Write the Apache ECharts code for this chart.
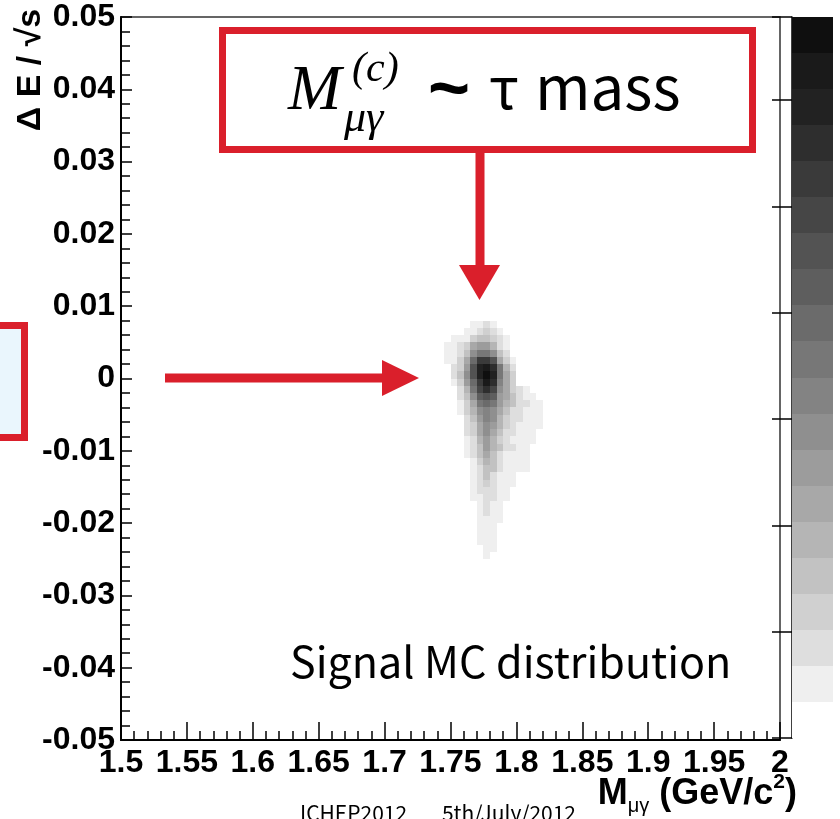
<!DOCTYPE html>
<html>
<head>
<meta charset="utf-8">
<script src="https://cdn.jsdelivr.net/npm/echarts@6/dist/echarts.min.js"></script>
<style>
  html, body { margin: 0; padding: 0; background: #ffffff; }
  #chart { width: 840px; height: 819px; }
</style>
</head>
<body>
<div id="chart"></div>
<script>
// ---- Histogram binning ----
const massRange = [1.5, 2.0];          // GeV/c^2
const massTickStep = 0.05;
const deltaERange = [-0.05, 0.05];     // ΔE/√s
const deltaETickStep = 0.01;
const massBinWidth = 0.005;
const deltaEBinWidth = 0.001;

// Lower ΔE/√s edge of each filled row (top to bottom)
const rowDeltaE = [
  0.007, 0.006, 0.005, 0.004, 0.003, 0.002, 0.001, 0.000,
  -0.001, -0.002, -0.003, -0.004, -0.005, -0.006, -0.007, -0.008,
  -0.009, -0.010, -0.011, -0.012, -0.013, -0.014, -0.015, -0.016,
  -0.017, -0.018, -0.019, -0.020, -0.021, -0.022, -0.023, -0.024, -0.025
];

// Lower mass edge of the first filled bin in each row
const rowMassStart = [
  1.765, 1.760, 1.750, 1.745, 1.745, 1.745, 1.750, 1.750,
  1.750, 1.755, 1.755, 1.755, 1.755, 1.760, 1.760, 1.760,
  1.760, 1.760, 1.760, 1.765, 1.765, 1.765, 1.765, 1.765,
  1.765, 1.770, 1.770, 1.770, 1.770, 1.770, 1.770, 1.775, 1.775
];

// Entries per bin in each row, left to right
const rowCounts = [
  [46, 58, 88, 52],
  [44, 62, 91, 125, 84, 49],
  [41, 47, 66, 118, 160, 152, 121, 80, 45],
  [39, 52, 83, 124, 219, 251, 258, 186, 87, 44],
  [42, 57, 92, 158, 289, 352, 360, 284, 149, 79],
  [37, 55, 116, 217, 389, 522, 530, 452, 221, 115, 48],
  [81, 118, 262, 455, 590, 640, 560, 340, 186, 76],
  [79, 153, 286, 456, 592, 668, 587, 349, 214, 110],
  [56, 112, 254, 388, 521, 625, 560, 317, 218, 104],
  [83, 184, 340, 490, 560, 500, 300, 219, 112, 79, 44],
  [77, 160, 275, 420, 470, 420, 260, 217, 152, 84, 47, 39],
  [52, 118, 230, 350, 390, 350, 240, 183, 148, 81, 72, 45, 38],
  [48, 113, 200, 290, 320, 300, 225, 150, 86, 74, 49, 42, 37],
  [82, 160, 250, 310, 275, 200, 125, 83, 77, 50, 44, 40],
  [78, 130, 235, 290, 250, 190, 118, 79, 48, 46, 41, 38],
  [71, 125, 205, 280, 235, 155, 88, 76, 47, 44, 39],
  [52, 92, 190, 250, 200, 125, 82, 46, 43, 40, 36],
  [49, 88, 160, 240, 195, 152, 86, 72, 45, 38],
  [47, 84, 152, 230, 155, 88, 50, 44, 41, 37],
  [55, 120, 195, 160, 90, 50, 45, 40, 36],
  [53, 86, 165, 155, 85, 48, 44, 39, 35],
  [50, 84, 150, 90, 50, 43, 38],
  [48, 82, 128, 86, 47, 41, 37],
  [46, 80, 92, 82, 45, 38],
  [43, 55, 84, 77, 42, 36],
  [48, 81, 46, 40],
  [44, 78, 45, 38],
  [42, 51, 47, 36],
  [40, 49, 41],
  [39, 46, 38],
  [37, 45, 36],
  [41, 35],
  [38]
];

// ---- Colour scale (z axis) ----
const zMax = 678;
const zTickStep = 100;
const levelColors = [
  '#ffffff', '#efefef', '#dedede', '#d0d0d0', '#c2c2c2', '#b5b5b5', '#a8a8a8',
  '#9c9c9c', '#8f8f8f', '#838383', '#777777', '#6b6b6b', '#5e5e5e', '#535353',
  '#464646', '#3a3a3a', '#2e2e2e', '#222222', '#1a1a1a', '#0f0f0f'
];

// ---- Text ----
const signalLabel = 'Signal MC distribution';
const footerLeft = 'ICHEP2012';
const footerRight = '5th/July/2012';

const RED = '#da1f2b';
const LABEL_FONT = '"Liberation Sans", Arial, Helvetica, sans-serif';
const GOTHIC_FONT = '"Noto Sans CJK JP", "Noto Sans", sans-serif';
const SERIF_FONT = '"Liberation Serif", "DejaVu Serif", serif';

// Build histogram cells [massLow, deltaELow, entries]
const cells = [];
rowDeltaE.forEach(function (e0, r) {
  rowCounts[r].forEach(function (n, i) {
    cells.push([+(rowMassStart[r] + i * massBinWidth).toFixed(3), e0, n]);
  });
});

const levelStep = zMax / levelColors.length;
const pieces = levelColors.map(function (c, i) {
  return { gte: i * levelStep, lt: (i + 1) * levelStep, color: c };
});
const paletteBands = levelColors.map(function (c, i) {
  return [i * levelStep, (i + 1) * levelStep, i];
});

function renderCell(params, api) {
  const m0 = api.value(0), e0 = api.value(1);
  const a = api.coord([m0, e0 + deltaEBinWidth]);
  const b = api.coord([m0 + massBinWidth, e0]);
  const x0 = Math.round(a[0]), y0 = Math.round(a[1]);
  const x1 = Math.round(b[0]), y1 = Math.round(b[1]);
  return {
    type: 'rect',
    shape: { x: x0, y: y0, width: x1 - x0, height: y1 - y0 },
    style: { fill: api.visual('color') }
  };
}

function renderBand(params, api) {
  const a = api.coord([0, api.value(1)]);
  const b = api.coord([1, api.value(0)]);
  return {
    type: 'rect',
    shape: { x: a[0], y: Math.round(a[1]), width: b[0] - a[0], height: Math.round(b[1]) - Math.round(a[1]) },
    style: { fill: levelColors[api.value(2)] }
  };
}

const chart = echarts.init(document.getElementById('chart'), null, { renderer: 'canvas' });

const option = {
  animation: false,
  backgroundColor: '#ffffff',
  grid: [
    { left: 121, top: 17, width: 659, height: 723, show: true, borderColor: '#333', borderWidth: 1.5,
      backgroundColor: 'transparent', outerBoundsMode: 'none' },
    { left: 792, top: 17, width: 41, height: 721, show: false, outerBoundsMode: 'none' }
  ],
  xAxis: [
    {
      gridIndex: 0, type: 'value', min: massRange[0], max: massRange[1], interval: massTickStep,
      axisLine: { show: true, onZero: false, lineStyle: { color: '#000', width: 2 } },
      axisTick: { show: true, inside: true, length: 18, lineStyle: { color: '#000', width: 1.5 } },
      minorTick: { show: true, splitNumber: 5, length: 9, lineStyle: { color: '#000', width: 1.5 } },
      splitLine: { show: false },
      axisLabel: { color: '#000', fontFamily: LABEL_FONT, fontWeight: 'bold', fontSize: 32, margin: 7 }
    },
    { gridIndex: 1, type: 'value', min: 0, max: 1, show: false }
  ],
  yAxis: [
    {
      gridIndex: 0, type: 'value', min: deltaERange[0], max: deltaERange[1], interval: deltaETickStep,
      axisLine: { show: true, onZero: false, lineStyle: { color: '#000', width: 2 } },
      axisTick: { show: true, inside: true, length: 11, lineStyle: { color: '#000', width: 1.5 } },
      minorTick: { show: true, splitNumber: 5, length: 9, lineStyle: { color: '#000', width: 1.5 } },
      splitLine: { show: false },
      axisLabel: { color: '#000', fontFamily: LABEL_FONT, fontWeight: 'bold', fontSize: 32, margin: 6 }
    },
    {
      gridIndex: 1, type: 'value', position: 'right', min: 0, max: zMax, interval: zTickStep,
      axisLine: { show: true, lineStyle: { color: '#000', width: 1.5 } },
      axisTick: { show: true, inside: true, length: 20, lineStyle: { color: '#000', width: 1.5 } },
      axisLabel: { show: false },
      splitLine: { show: false }
    }
  ],
  visualMap: {
    type: 'piecewise', show: false, seriesIndex: 0, dimension: 2, pieces: pieces
  },
  series: [
    {
      type: 'custom', name: 'signal MC', xAxisIndex: 0, yAxisIndex: 0,
      renderItem: renderCell, encode: { x: 0, y: 1 }, data: cells, clip: true, silent: true
    },
    {
      type: 'custom', name: 'palette', xAxisIndex: 1, yAxisIndex: 1,
      renderItem: renderBand, encode: { y: [0, 1] }, data: paletteBands, silent: true
    }
  ],
  graphic: [
    // y-axis title
    { type: 'text', x: 31, y: 70, rotation: Math.PI / 2,
      style: { text: 'Δ E / √s', font: 'bold 34px ' + LABEL_FONT, fill: '#000', align: 'center', verticalAlign: 'middle' } },
    // x-axis title
    { type: 'text', x: 797, y: 794,
      style: {
        text: '{b|M}{s|μγ}{b| (GeV/c}{p|2}{b|)}',
        align: 'right', verticalAlign: 'middle',
        rich: {
          b: { fontFamily: LABEL_FONT, fontWeight: 'bold', fontSize: 36, lineHeight: 44, fill: '#000', verticalAlign: 'middle' },
          s: { fontFamily: LABEL_FONT, fontSize: 20, fill: '#000', verticalAlign: 'bottom' },
          p: { fontFamily: LABEL_FONT, fontWeight: 'bold', fontSize: 21, lineHeight: 32, fill: '#000', verticalAlign: 'top' }
        }
      } },
    // left callout (partly off the page)
    { type: 'rect', shape: { x: -6.5, y: 325.5, width: 31, height: 112 },
      style: { fill: '#eaf6fd', stroke: RED, lineWidth: 7 } },
    // horizontal arrow
    { type: 'rect', shape: { x: 165, y: 373.5, width: 220, height: 9 }, style: { fill: RED } },
    { type: 'polygon', shape: { points: [[382, 360], [382, 396], [419, 378]] }, style: { fill: RED } },
    // top callout
    { type: 'rect', shape: { x: 222.5, y: 30.5, width: 530, height: 119 },
      style: { fill: '#ffffff', stroke: RED, lineWidth: 7 } },
    { type: 'text', x: 288, y: 92,
      style: { text: 'M', font: 'italic 64px ' + SERIF_FONT, fill: '#000', align: 'left', verticalAlign: 'middle' } },
    { type: 'text', x: 352, y: 70,
      style: { text: '(c)', font: 'italic 42px ' + SERIF_FONT, fill: '#000', align: 'left', verticalAlign: 'middle' } },
    { type: 'text', x: 344, y: 119,
      style: { text: 'μγ', font: 'italic 44px ' + SERIF_FONT, fill: '#000', align: 'left', verticalAlign: 'middle' } },
    { type: 'text', x: 449, y: 92,
      style: { text: '~', font: 'bold 72px ' + LABEL_FONT, fill: '#000', align: 'center', verticalAlign: 'middle' } },
    { type: 'text', x: 489, y: 87,
      style: { text: 'τ', font: '58px ' + GOTHIC_FONT, fill: '#000', align: 'left', verticalAlign: 'middle' } },
    { type: 'text', x: 535, y: 87,
      style: { text: 'mass', font: '60px ' + GOTHIC_FONT, fill: '#000', align: 'left', verticalAlign: 'middle' } },
    // vertical arrow
    { type: 'rect', shape: { x: 475.5, y: 150, width: 9, height: 117 }, style: { fill: RED } },
    { type: 'polygon', shape: { points: [[459, 265], [500, 265], [479.5, 300]] }, style: { fill: RED } },
    // in-plot label
    { type: 'text', x: 290, y: 662,
      style: { text: signalLabel, font: '43px ' + GOTHIC_FONT, fill: '#000', align: 'left', verticalAlign: 'middle' } },
    // footer
    { type: 'text', x: 300, y: 813,
      style: { text: footerLeft, font: '21px ' + GOTHIC_FONT, fill: '#000', align: 'left', verticalAlign: 'middle' } },
    { type: 'text', x: 576, y: 813,
      style: { text: footerRight, font: '21px ' + GOTHIC_FONT, fill: '#000', align: 'right', verticalAlign: 'middle' } }
  ]
};

chart.setOption(option);
</script>
</body>
</html>
